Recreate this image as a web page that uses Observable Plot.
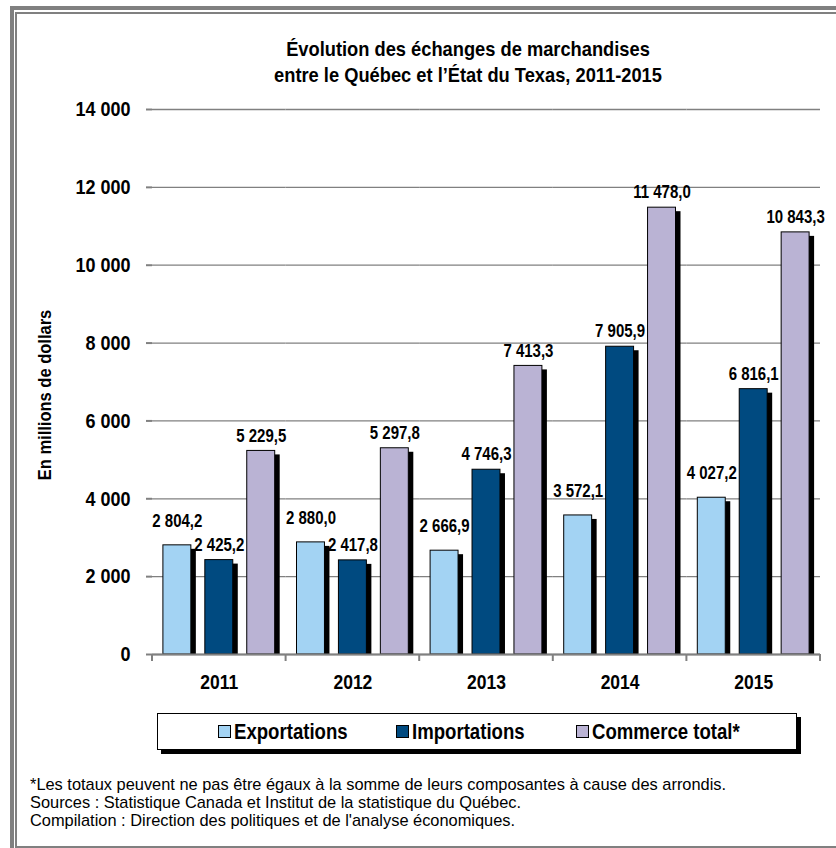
<!DOCTYPE html>
<html>
<head>
<meta charset="utf-8">
<script src="https://cdn.jsdelivr.net/npm/d3@7"></script>
<script src="https://cdn.jsdelivr.net/npm/@observablehq/plot@0.6"></script>
<style>
  html, body { margin: 0; padding: 0; background: #fff; }
  #wrap { position: relative; width: 836px; height: 848px; overflow: hidden; background: #fff;
          font-family: 'Liberation Sans', Arial, sans-serif; }
  .frame1 { position: absolute; left: 10px; top: 6px; width: 900px; height: 900px;
            border-left: 4px solid #808080; border-top: 4px solid #808080; }
  .frame2 { position: absolute; left: 15px; top: 12px; width: 900px; height: 832px;
            border-left: 2px solid #808080; border-top: 2px solid #808080; border-bottom: 2px solid #808080; }
  #title { position: absolute; left: 218px; width: 500px; top: 35px; text-align: center;
           font-weight: bold; font-size: 18.3px; line-height: 23px; white-space: nowrap; color: #000;
           transform: scaleY(1.15); transform-origin: center top; }
  #ylab { position: absolute; left: 45px; top: 395px; transform: translate(-50%, -50%) rotate(-90deg) scaleY(1.08);
          font-weight: bold; font-size: 16.5px; white-space: nowrap; color: #000; }
  #chart { position: absolute; left: 0; top: 0; }
  #legend { position: absolute; left: 157px; top: 713px; width: 638px; height: 35px;
            border: 1.5px solid #000; background: #fff; box-shadow: 4px 4px 0 #000; }
  .item { position: absolute; top: 0; height: 35px; display: flex; align-items: center;
          font-weight: bold; font-size: 18.6px; white-space: nowrap; }
  .item .lbl { display: inline-block; transform: scaleY(1.15); }
  .sw { display: inline-block; width: 11px; height: 11px; border: 1px solid #000; margin-right: 3px; }
  #notes { position: absolute; left: 30px; top: 775px;
           font-size: 16.4px; line-height: 18px; color: #000; white-space: nowrap; }
</style>
</head>
<body>
<div id="wrap">
  <div class="frame1"></div>
  <div class="frame2"></div>
  <div id="title">Évolution des échanges de marchandises<br>entre le Québec et l’État du Texas, 2011-2015</div>
  <div id="chart"></div>
  <div id="ylab">En millions de dollars</div>
  <div id="legend"></div>
  <div id="notes">*Les totaux peuvent ne pas être égaux à la somme de leurs composantes à cause des arrondis.<br>Sources : Statistique Canada et Institut de la statistique du Québec.<br>Compilation : Direction des politiques et de l'analyse économiques.</div>
</div>
<script>
// ---- data ----
const years = ["2011", "2012", "2013", "2014", "2015"];
const series = ["Exportations", "Importations", "Commerce total*"];
const exportations = [2804.2, 2880.0, 2666.9, 3572.1, 4027.2];
const importations = [2425.2, 2417.8, 4746.3, 7905.9, 6816.1];
const commerceTotal = [5229.5, 5297.8, 7413.3, 11478.0, 10843.3];
const yTicks = [0, 2000, 4000, 6000, 8000, 10000, 12000, 14000];
const colors = ["#a3d3f3", "#004a80", "#bab3d4"];

const valuesBySeries = [exportations, importations, commerceTotal];
const rows = [];
years.forEach((yr, i) => series.forEach((s, j) => rows.push({year: yr, series: s, value: valuesBySeries[j][i]})));

const loc = d3.formatLocale({decimal: ",", thousands: "\u00a0", grouping: [3], currency: ["", " $"]});
const fmt1 = loc.format(",.1f");
const fmt0 = loc.format(",.0f");

const F = "'Liberation Sans', Arial, sans-serif";
const GREY = "#808080";

const chart = Plot.plot({
  width: 836,
  height: 700,
  marginTop: 109,
  marginBottom: 46,
  marginLeft: 152,
  marginRight: 16,
  style: {background: "transparent", fontFamily: F},
  fx: {domain: years, padding: 0, round: false, axis: null, label: null},
  x: {domain: series, paddingInner: 1/3, paddingOuter: 0.26, round: false, axis: null},
  y: {domain: [0, 14000], axis: null},
  color: {domain: series, range: colors},
  marks: [
    Plot.gridY(yTicks, {stroke: GREY, strokeOpacity: 1, strokeWidth: 1.3}),
    Plot.axisY({anchor: "right", ticks: [], line: true, stroke: GREY, strokeWidth: 1.3, label: null}),
    Plot.barY(rows, {fx: "year", x: "series", y: "value", fill: "black", dx: 5, dy: 4, clip: true}),
    Plot.barY(rows, {fx: "year", x: "series", y: "value", fill: "series", stroke: "black", strokeWidth: 1}),
    Plot.ruleY([0], {stroke: GREY, strokeWidth: 2}),
    Plot.axisY({ticks: yTicks, tickSize: 6, tickPadding: 16, tickFormat: d => fmt0(d), line: true,
                stroke: GREY, strokeWidth: 2, fill: "black", fontSize: 18, fontWeight: "bold", fontFamily: F, label: null}),
    Plot.axisFx({anchor: "bottom", tickSize: 0, tickPadding: 20, fill: "black", fontSize: 17.5, fontWeight: "bold", fontFamily: F, label: null}),
    Plot.text(rows.filter(d => d.series === series[0]), {fx: "year", x: "series", y: "value", text: d => fmt1(d.value),
                dy: -24, fill: "black", fontSize: 15, fontWeight: "bold", fontFamily: F}),
    Plot.text(rows.filter(d => d.series !== series[0]), {fx: "year", x: "series", y: "value", text: d => fmt1(d.value),
                dy: -15, fill: "black", fontSize: 15, fontWeight: "bold", fontFamily: F})
  ]
});
document.getElementById("chart").appendChild(chart);

const svgEl = chart.tagName.toLowerCase() === "svg" ? chart : chart.querySelector("svg");
const svg = d3.select(svgEl);

// the reference lettering is taller than it is wide: stretch each label vertically around its own anchor
svg.selectAll("text").each(function () {
  const t = this.getAttribute("transform");
  if (t && t.includes("translate")) this.setAttribute("transform", t + " scale(1,1.17)");
});

// category boundary tick marks on the bottom axis, from the plot's own scales
const fxs = chart.scale("fx");
const ys = chart.scale("y");
const r0 = fxs.range[0], r1 = fxs.range[1];
const step = (r1 - r0) / years.length;
const y0 = ys.range[0];
d3.range(years.length + 1).forEach(i => {
  svg.append("line").attr("x1", r0 + i * step).attr("x2", r0 + i * step)
     .attr("y1", y0).attr("y2", y0 + 7).attr("stroke", GREY).attr("stroke-width", 2);
});

// legend
const legendPos = [60, 238, 418];
const lg = document.getElementById("legend");
series.forEach((s, i) => {
  const it = document.createElement("div");
  it.className = "item";
  it.style.left = legendPos[i] + "px";
  it.innerHTML = `<span class="sw" style="background:${colors[i]}"></span><span class="lbl">${s}</span>`;
  lg.appendChild(it);
});
</script>
</body>
</html>
